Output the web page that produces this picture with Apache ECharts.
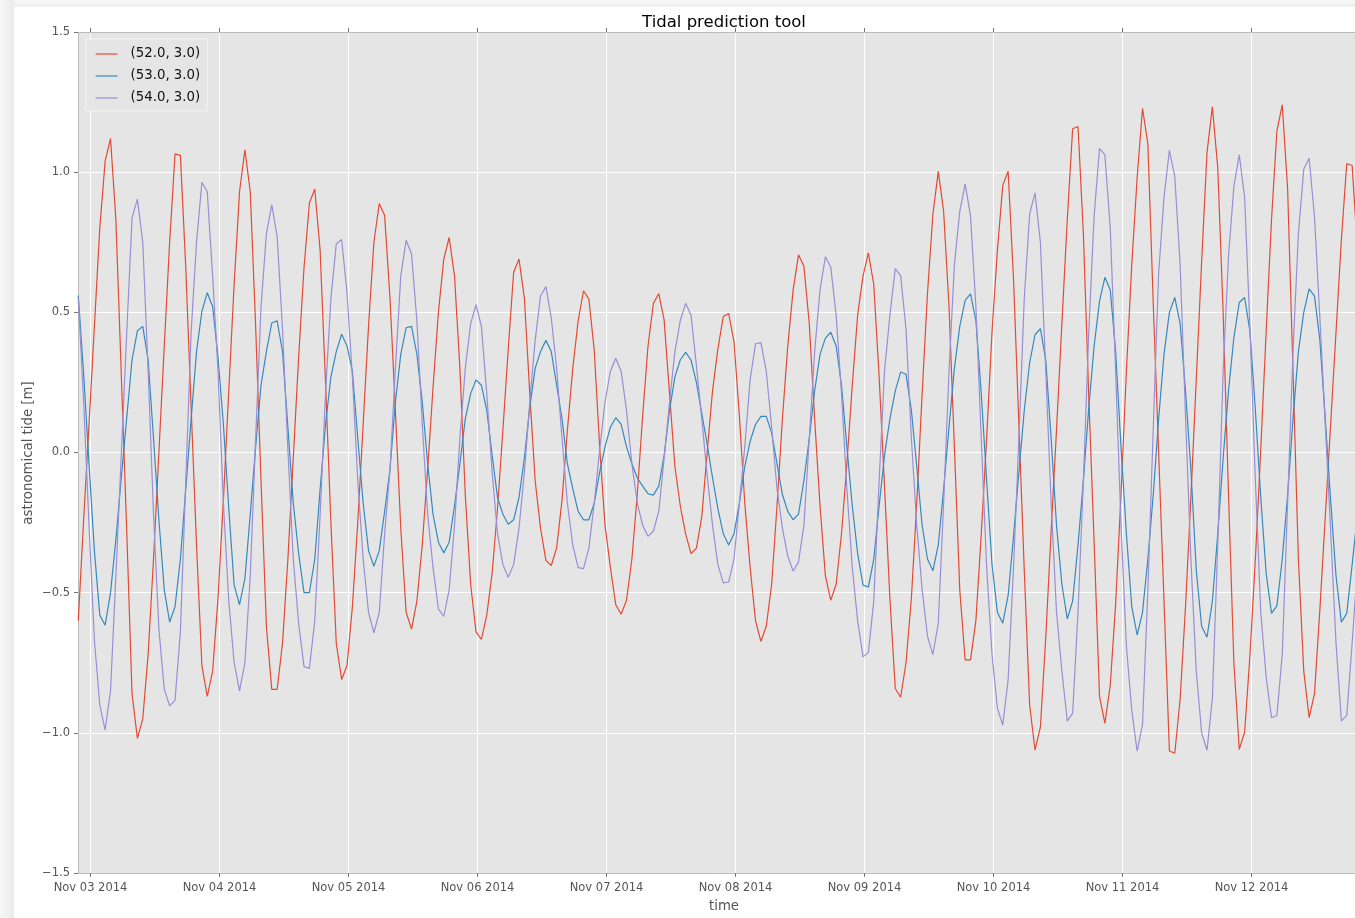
<!DOCTYPE html>
<html>
<head>
<meta charset="utf-8">
<script src="https://cdn.jsdelivr.net/npm/echarts@6/dist/echarts.min.js"></script>
<style>
html,body{margin:0;padding:0;background:#ffffff;}
#chart{width:1355px;height:918px;}
</style>
</head>
<body>
<div id="chart"></div>
<script>
// ---- data (hourly samples) ----
const seriesNames = ['(52.0, 3.0)', '(53.0, 3.0)', '(54.0, 3.0)'];
const seriesColors = ['#E24A33', '#348ABD', '#988ED5'];
const firstSample = [2014, 10, 2, 21, 43];      // 2014-11-02 21:43, hourly
const axisStart = [2014, 10, 2, 21, 40];
const axisEnd = [2014, 10, 12, 19, 15];
const dayTicks = ['2014-11-03','2014-11-04','2014-11-05','2014-11-06','2014-11-07',
                  '2014-11-08','2014-11-09','2014-11-10','2014-11-11','2014-11-12'];
const yTicks = [-1.5, -1.0, -0.5, 0.0, 0.5, 1.0, 1.5];

const tide52 = [
 -0.60,-0.24,0.10,0.45,0.80,1.04,1.12,0.83,0.28,-0.27,
 -0.86,-1.02,-0.95,-0.72,-0.38,0.00,0.38,0.75,1.065,1.06,
 0.66,0.16,-0.33,-0.76,-0.87,-0.78,-0.52,-0.17,0.22,0.60,
 0.93,1.08,0.93,0.45,-0.10,-0.62,-0.845,-0.845,-0.68,-0.38,
 -0.02,0.34,0.66,0.89,0.94,0.72,0.25,-0.25,-0.68,-0.81,
 -0.76,-0.55,-0.25,0.10,0.45,0.75,0.888,0.845,0.55,0.15,
 -0.27,-0.57,-0.63,-0.53,-0.33,-0.06,0.23,0.50,0.69,0.767,
 0.63,0.30,-0.15,-0.47,-0.64,-0.667,-0.58,-0.43,-0.20,0.08,
 0.37,0.643,0.69,0.55,0.21,-0.10,-0.27,-0.385,-0.403,-0.34,
 -0.17,0.08,0.30,0.47,0.577,0.547,0.364,0.02,-0.26,-0.41,
 -0.543,-0.577,-0.527,-0.38,-0.15,0.13,0.38,0.532,0.567,0.473,
 0.21,-0.05,-0.19,-0.29,-0.361,-0.341,-0.23,0.00,0.22,0.37,
 0.485,0.496,0.395,0.13,-0.18,-0.41,-0.60,-0.674,-0.62,-0.47,
 -0.19,0.12,0.38,0.58,0.705,0.664,0.46,0.12,-0.19,-0.44,
 -0.527,-0.47,-0.29,-0.04,0.24,0.49,0.63,0.712,0.60,0.27,
 -0.12,-0.52,-0.842,-0.873,-0.75,-0.52,-0.18,0.21,0.57,0.85,
 1.003,0.86,0.52,0.02,-0.49,-0.74,-0.74,-0.60,-0.29,0.05,
 0.43,0.72,0.953,1.003,0.62,0.10,-0.42,-0.90,-1.062,-0.98,
 -0.66,-0.28,0.08,0.46,0.83,1.155,1.163,0.78,0.20,-0.32,
 -0.87,-0.966,-0.83,-0.54,-0.15,0.29,0.67,0.98,1.228,1.10,
 0.53,0.00,-0.53,-1.065,-1.073,-0.88,-0.55,-0.16,0.26,0.68,
 1.07,1.233,1.016,0.50,-0.15,-0.75,-1.059,-0.997,-0.72,-0.38,
 0.01,0.43,0.83,1.147,1.24,0.94,0.29,-0.38,-0.78,-0.946,
 -0.86,-0.56,-0.23,0.10,0.43,0.76,1.031,1.024,0.72
];
const tide53 = [
 0.56,0.28,-0.04,-0.35,-0.58,-0.616,-0.50,-0.31,-0.09,0.12,
 0.33,0.434,0.45,0.33,0.05,-0.24,-0.49,-0.605,-0.55,-0.38,
 -0.13,0.12,0.36,0.504,0.57,0.52,0.34,0.10,-0.20,-0.473,
 -0.543,-0.45,-0.22,0.02,0.24,0.36,0.462,0.47,0.36,0.09,
 -0.18,-0.36,-0.50,-0.50,-0.38,-0.13,0.10,0.27,0.36,0.422,
 0.38,0.29,0.05,-0.18,-0.35,-0.406,-0.35,-0.21,-0.06,0.18,
 0.35,0.445,0.45,0.35,0.18,-0.04,-0.22,-0.32,-0.358,-0.32,
 -0.19,-0.04,0.12,0.21,0.259,0.24,0.15,-0.01,-0.16,-0.22,
 -0.256,-0.24,-0.16,-0.02,0.16,0.30,0.36,0.40,0.36,0.24,
 0.12,-0.04,-0.13,-0.21,-0.24,-0.24,-0.18,-0.07,0.02,0.09,
 0.124,0.10,0.02,-0.04,-0.09,-0.12,-0.147,-0.152,-0.12,-0.01,
 0.15,0.27,0.33,0.357,0.33,0.25,0.14,0.03,-0.09,-0.20,
 -0.29,-0.33,-0.29,-0.18,-0.05,0.04,0.10,0.129,0.129,0.07,
 -0.04,-0.15,-0.21,-0.24,-0.22,-0.10,0.05,0.22,0.35,0.408,
 0.429,0.38,0.24,0.02,-0.19,-0.36,-0.473,-0.48,-0.38,-0.19,
 -0.01,0.12,0.22,0.287,0.279,0.15,-0.05,-0.26,-0.38,-0.422,
 -0.33,-0.13,0.09,0.30,0.45,0.543,0.566,0.47,0.21,-0.10,
 -0.40,-0.57,-0.609,-0.51,-0.30,-0.07,0.15,0.32,0.42,0.442,
 0.33,0.05,-0.26,-0.47,-0.594,-0.53,-0.33,-0.10,0.16,0.38,
 0.54,0.625,0.58,0.36,0.02,-0.29,-0.55,-0.651,-0.57,-0.38,
 -0.15,0.12,0.35,0.50,0.553,0.46,0.22,-0.06,-0.42,-0.62,
 -0.659,-0.53,-0.29,-0.02,0.22,0.41,0.535,0.553,0.43,0.15,
 -0.16,-0.43,-0.574,-0.547,-0.38,-0.15,0.12,0.36,0.50,0.584,
 0.558,0.40,0.12,-0.17,-0.44,-0.605,-0.574,-0.40,-0.22
];
const tide54 = [
 0.55,0.18,-0.26,-0.67,-0.90,-0.99,-0.85,-0.44,-0.01,0.42,
 0.837,0.904,0.75,0.29,-0.22,-0.63,-0.845,-0.904,-0.884,-0.64,
 -0.10,0.43,0.75,0.964,0.93,0.63,0.29,-0.18,-0.53,-0.75,
 -0.85,-0.75,-0.44,0.05,0.52,0.78,0.884,0.77,0.44,0.01,
 -0.38,-0.61,-0.764,-0.77,-0.60,-0.22,0.21,0.55,0.744,0.76,
 0.57,0.27,-0.10,-0.38,-0.57,-0.643,-0.57,-0.29,-0.06,0.30,
 0.63,0.757,0.709,0.47,0.10,-0.22,-0.41,-0.558,-0.585,-0.49,
 -0.26,0.05,0.30,0.46,0.527,0.45,0.21,-0.07,-0.29,-0.40,
 -0.445,-0.40,-0.27,-0.07,0.18,0.40,0.558,0.592,0.48,0.30,
 0.05,-0.18,-0.33,-0.411,-0.414,-0.34,-0.18,0.01,0.18,0.29,
 0.336,0.29,0.15,-0.04,-0.18,-0.26,-0.299,-0.28,-0.21,-0.02,
 0.18,0.36,0.47,0.532,0.49,0.31,0.12,-0.08,-0.26,-0.40,
 -0.465,-0.462,-0.38,-0.18,0.02,0.26,0.388,0.392,0.29,0.09,
 -0.13,-0.27,-0.37,-0.423,-0.39,-0.26,0.05,0.36,0.58,0.698,
 0.662,0.49,0.21,-0.13,-0.41,-0.60,-0.729,-0.713,-0.53,-0.10,
 0.29,0.49,0.656,0.631,0.44,0.05,-0.26,-0.49,-0.656,-0.721,
 -0.61,-0.18,0.29,0.67,0.86,0.957,0.845,0.52,0.05,-0.41,
 -0.72,-0.912,-0.972,-0.81,-0.41,0.05,0.55,0.85,0.926,0.75,
 0.29,-0.18,-0.57,-0.78,-0.958,-0.93,-0.57,-0.10,0.43,0.845,
 1.085,1.062,0.80,0.29,-0.26,-0.69,-0.92,-1.065,-0.97,-0.49,
 0.09,0.64,0.91,1.078,0.985,0.67,0.13,-0.38,-0.78,-1.00,
 -1.062,-0.876,-0.33,0.29,0.70,0.95,1.062,0.91,0.44,-0.10,
 -0.57,-0.80,-0.946,-0.938,-0.72,-0.18,0.36,0.78,1.011,1.05,
 0.84,0.48,0.10,-0.28,-0.68,-0.958,-0.938,-0.68,-0.40
];

// ---- build ----
const HOUR = 3600000;
function ts(a){ return new Date(a[0], a[1], a[2], a[3] || 0, a[4] || 0).getTime(); }
function parseDay(s){ const p = s.split('-').map(Number); return new Date(p[0], p[1]-1, p[2]).getTime(); }
const t0 = ts(firstSample);
const xMin = ts(axisStart), xMax = ts(axisEnd);
const dayTickValues = dayTicks.map(parseDay);
function pairs(vals){ return vals.map((v, k) => [t0 + k * HOUR, v]); }
const allValues = [tide52, tide53, tide54];
const MONTHS = ['Jan','Feb','Mar','Apr','May','Jun','Jul','Aug','Sep','Oct','Nov','Dec'];
function fmtDay(v){ const d = new Date(v); return MONTHS[d.getMonth()] + ' ' + String(d.getDate()).padStart(2,'0') + ' ' + d.getFullYear(); }
function fmtY(v){ return (v < 0 ? '\u2212' : '') + Math.abs(v).toFixed(1); }

const FONT = 'DejaVu Sans';
const chart = echarts.init(document.getElementById('chart'), null, {renderer: 'canvas'});
const option = {
  animation: false,
  backgroundColor: '#ffffff',
  textStyle: {fontFamily: FONT},
  grid: {left: 78, right: 0, top: 32, bottom: 45, show: true, backgroundColor: '#E5E5E5', borderWidth: 0},
  legend: {
    data: seriesNames,
    orient: 'vertical',
    left: 86, top: 39,
    itemWidth: 22, itemHeight: 14, itemGap: 8,
    padding: [8, 7, 6, 9],
    backgroundColor: '#E5E5E5',
    borderColor: '#f4f4f4', borderWidth: 1,
    itemStyle: {opacity: 0, borderWidth: 0},
    lineStyle: {width: 1.2},
    textStyle: {fontFamily: FONT, fontSize: 13.3, color: '#111', padding: [0, 0, 0, 8], lineHeight: 14}
  },
  xAxis: [{
    type: 'value', min: xMin, max: xMax, position: 'bottom',
    axisLine: {show: true, onZero: false, lineStyle: {color: '#bcbcbc', width: 1}},
    axisTick: {show: true, inside: false, length: 4, customValues: dayTickValues, lineStyle: {color: '#777', width: 1}},
    axisLabel: {show: true, customValues: dayTickValues, formatter: fmtDay, color: '#555', fontSize: 11.5, margin: 9, fontFamily: FONT, hideOverlap: false},
    splitLine: {show: true, lineStyle: {color: '#ffffff', width: 1}}
  }, {
    type: 'value', min: xMin, max: xMax, position: 'top',
    axisLine: {show: true, onZero: false, lineStyle: {color: '#bcbcbc', width: 1}},
    axisTick: {show: true, inside: false, length: 4, customValues: dayTickValues, lineStyle: {color: '#777', width: 1}},
    axisLabel: {show: false},
    splitLine: {show: false}
  }],
  yAxis: {
    type: 'value', min: yTicks[0], max: yTicks[yTicks.length - 1], interval: 0.5,
    axisLine: {show: true, lineStyle: {color: '#bcbcbc', width: 1}},
    axisTick: {show: true, inside: false, length: 4, lineStyle: {color: '#777', width: 1}},
    axisLabel: {color: '#555', fontSize: 11.5, margin: 8, formatter: fmtY, fontFamily: FONT},
    splitLine: {show: true, lineStyle: {color: '#ffffff', width: 1}}
  },
  series: seriesNames.map((name, i) => ({
    name: name, type: 'line', xAxisIndex: 0,
    data: pairs(allValues[i]),
    showSymbol: false, symbol: 'none',
    clip: true,
    lineStyle: {color: seriesColors[i], width: 1.2},
    itemStyle: {color: seriesColors[i]},
    emphasis: {disabled: true}
  })),
  graphic: [
    {type: 'rect', left: 0, top: 0, z: -10, shape: {width: 14, height: 918},
     style: {fill: new echarts.graphic.LinearGradient(0, 0, 1, 0, [{offset: 0, color: '#f6f6f6'}, {offset: 1, color: '#ebebeb'}])}},
    {type: 'rect', left: 14, top: 0, z: -10, shape: {width: 1341, height: 7},
     style: {fill: new echarts.graphic.LinearGradient(0, 0, 0, 1, [{offset: 0, color: '#f8f8f8'}, {offset: 1, color: '#eeeeee'}])}},
    {type: 'text', x: 724, y: 23, style: {text: 'Tidal prediction tool', fill: '#000', font: '16.5px "DejaVu Sans"', textAlign: 'center', textVerticalAlign: 'middle'}},
    {type: 'text', x: 724, y: 907, style: {text: 'time', fill: '#555', font: '13.3px "DejaVu Sans"', textAlign: 'center', textVerticalAlign: 'middle'}},
    {type: 'text', x: 29, y: 453, rotation: Math.PI / 2, style: {text: 'astronomical tide [m]', fill: '#555', font: '13.3px "DejaVu Sans"', textAlign: 'center', textVerticalAlign: 'middle'}}
  ]
};
chart.setOption(option);
</script>
</body>
</html>
